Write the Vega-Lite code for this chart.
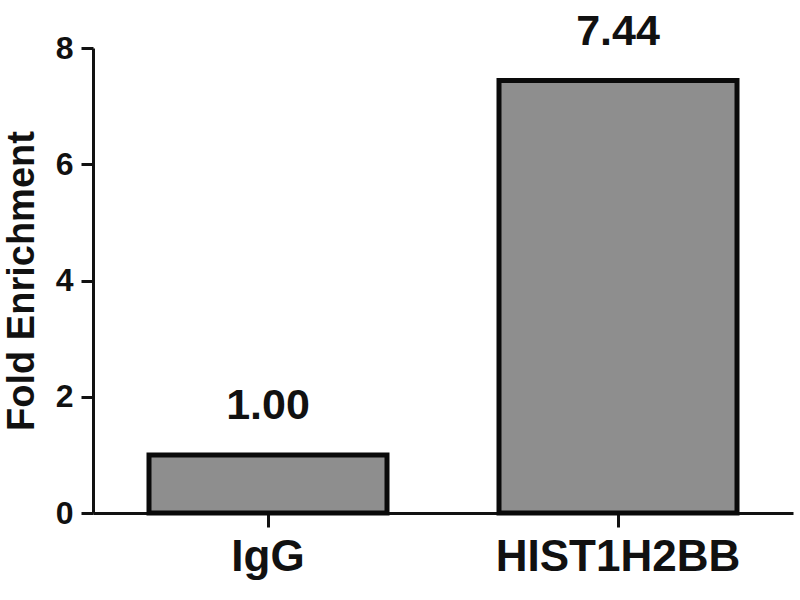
{
  "$schema": "https://vega.github.io/schema/vega-lite/v6.json",
  "autosize": "none",
  "width": 700,
  "height": 465,
  "padding": {"left": 93, "top": 48, "right": 7, "bottom": 87},
  "background": "white",
  "config": {
    "view": {"stroke": null},
    "font": "Liberation Sans"
  },
  "data": {
    "values": [
      {"sample": "IgG", "enrichment": 1.00},
      {"sample": "HIST1H2BB", "enrichment": 7.44}
    ]
  },
  "encoding": {
    "x": {
      "field": "sample",
      "type": "nominal",
      "sort": ["IgG", "HIST1H2BB"],
      "scale": {"paddingInner": 0.32, "paddingOuter": 0.16},
      "axis": {
        "title": null,
        "labelAngle": 0,
        "labelLimit": 0,
        "labelFont": "Liberation Sans",
        "labelFontWeight": "bold",
        "labelFontSize": 44,
        "labelColor": "#111111",
        "labelPadding": 8,
        "tickSize": 14,
        "tickWidth": 3,
        "tickColor": "#111111",
        "domainColor": "#111111",
        "domainWidth": 3,
        "grid": false
      }
    },
    "y": {
      "field": "enrichment",
      "type": "quantitative",
      "scale": {"domain": [0, 8], "nice": false},
      "axis": {
        "title": "Fold Enrichment",
        "titleFont": "Liberation Sans",
        "titleFontWeight": "bold",
        "titleFontSize": 38,
        "titleColor": "#111111",
        "titleBaseline": "alphabetic",
        "titleX": -60,
        "values": [0, 2, 4, 6, 8],
        "labelFont": "Liberation Sans",
        "labelFontWeight": "bold",
        "labelFontSize": 32,
        "labelColor": "#111111",
        "labelPadding": 8,
        "tickSize": 12,
        "tickWidth": 3,
        "tickColor": "#111111",
        "domainColor": "#111111",
        "domainWidth": 3,
        "grid": false
      }
    }
  },
  "layer": [
    {
      "mark": {
        "type": "bar",
        "fill": "#8e8e8e",
        "stroke": "#0a0a0a",
        "strokeWidth": 5
      }
    },
    {
      "mark": {
        "type": "text",
        "baseline": "alphabetic",
        "align": "center",
        "dy": -36,
        "font": "Liberation Sans",
        "fontWeight": "bold",
        "fontSize": 43,
        "color": "#111111"
      },
      "encoding": {
        "text": {"field": "enrichment", "type": "quantitative", "format": ".2f"}
      }
    }
  ]
}
